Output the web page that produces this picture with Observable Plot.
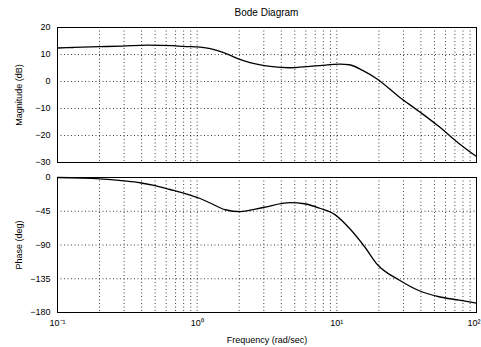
<!DOCTYPE html>
<html>
<head>
<meta charset="utf-8">
<script src="https://cdn.jsdelivr.net/npm/d3@7"></script>
<script src="https://cdn.jsdelivr.net/npm/@observablehq/plot@0.6"></script>
<style>
  body { margin: 0; background: #fff; font-family: "Liberation Sans", Arial, sans-serif; }
  #wrap { width: 481px; height: 347px; position: relative; }
  #title { height: 20px; width: 419px; margin-left: 57px; text-align: center; font-size: 10px; line-height: 26px; color: #000; }
  svg { display: block; }
</style>
</head>
<body>
<div id="wrap">
  <div id="title">Bode Diagram</div>
  <div id="magPanel"></div>
  <div id="phasePanel"></div>
</div>
<script>
const magFreq = [0.1, 0.13, 0.2, 0.29, 0.44, 0.67, 0.79, 1.05, 1.24, 1.53, 1.93, 2.39, 3.33, 4.61, 6.39, 7.56, 10.5, 12.3, 15.3, 19.3, 28.1, 38.9, 53.9, 70.7, 100];
const magDb   = [12.4, 12.6, 12.9, 13.1, 13.5, 13.3, 13.0, 12.7, 12.2, 10.8, 8.6, 7.0, 5.6, 5.1, 5.6, 5.9, 6.4, 6.2, 4.1, 1.0, -5.8, -11.1, -16.7, -21.9, -27.8];

const phaseFreq = [0.1, 0.2, 0.3, 0.39, 0.49, 0.64, 0.79, 0.89, 1.05, 1.24, 1.59, 2.03, 2.96, 4.61, 5.87, 7.56, 9.69, 12.4, 15.9, 19.5, 28.1, 38.9, 53.9, 75.3, 100];
const phaseDeg  = [0, -1.7, -4.5, -7, -10.5, -16, -20.5, -23.5, -28, -34, -43, -45.5, -40, -33.5, -35, -41, -49.5, -68.4, -93, -116, -137, -151, -159, -163.5, -167.6];

const xTicks = [0.1, 1, 10];
const xLastTick = [100];
const xTickLabels = ["10\u207B\u00B9", "10\u2070", "10\u00B9", "10\u00B2"];
const xTickValues = [0.1, 1, 10, 100];
const magTicks = [20, 10, 0, -10, -20, -30];
const phaseTicks = [0, -45, -90, -135, -180];

const magData = magFreq.map((f, i) => ({f, v: magDb[i]}));
const phaseData = phaseFreq.map((f, i) => ({f, v: phaseDeg[i]}));
const fmtX = (d) => xTickLabels[xTickValues.indexOf(d)];

const gridStyle = {stroke: "#000", strokeOpacity: 0.75, strokeDasharray: "1,2.5", strokeWidth: 1};
const font = {fontFamily: "Liberation Sans, Arial, sans-serif", fontSize: "9px", background: "transparent", color: "#000"};

const magChart = Plot.plot({
  width: 481, height: 150,
  marginLeft: 57, marginRight: 5, marginTop: 7, marginBottom: 8,
  style: font,
  x: {type: "log", domain: [0.1, 100]},
  y: {domain: [-30, 20]},
  marks: [
    Plot.gridX({...gridStyle}),
    Plot.gridY(magTicks, {...gridStyle}),
    Plot.axisY(magTicks, {tickSize: 0, tickPadding: 7, label: "Magnitude (dB)", labelAnchor: "center", labelOffset: 42, labelArrow: "none"}),
    Plot.axisX([], {label: null}),
    Plot.line(magData, {x: "f", y: "v", stroke: "#000", strokeWidth: 1.3, curve: "monotone-x"}),
    Plot.frame({stroke: "#000", strokeWidth: 1})
  ]
});
document.getElementById("magPanel").appendChild(magChart);

const phaseChart = Plot.plot({
  width: 481, height: 177,
  marginLeft: 57, marginRight: 5, marginTop: 7, marginBottom: 35,
  style: font,
  x: {type: "log", domain: [0.1, 100]},
  y: {domain: [-180, 0]},
  marks: [
    Plot.gridX({...gridStyle}),
    Plot.gridY(phaseTicks, {...gridStyle}),
    Plot.axisY(phaseTicks, {tickSize: 0, tickPadding: 7, label: "Phase (deg)", labelAnchor: "center", labelOffset: 42, labelArrow: "none"}),
    Plot.axisX(xTicks, {tickSize: 0, tickPadding: 7, tickFormat: fmtX, label: "Frequency (rad/sec)", labelAnchor: "center", labelOffset: 30, labelArrow: "none"}),
    Plot.axisX(xLastTick, {tickSize: 0, tickPadding: 7, tickFormat: fmtX, textAnchor: "end", dx: 4, label: null}),
    Plot.line(phaseData, {x: "f", y: "v", stroke: "#000", strokeWidth: 1.3, curve: "monotone-x"}),
    Plot.frame({stroke: "#000", strokeWidth: 1})
  ]
});
document.getElementById("phasePanel").appendChild(phaseChart);
</script>
</body>
</html>
